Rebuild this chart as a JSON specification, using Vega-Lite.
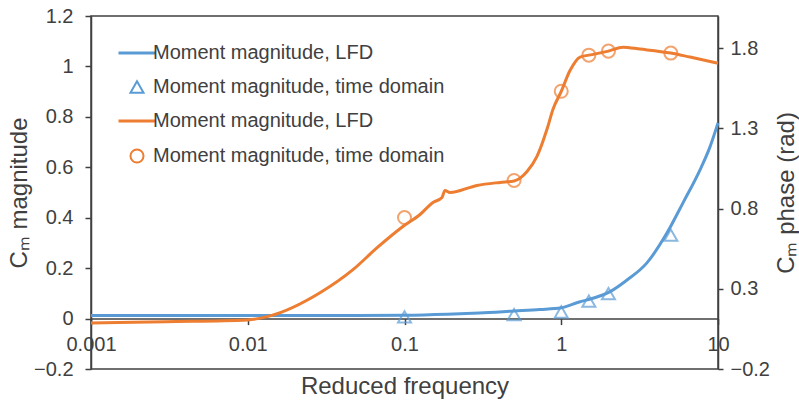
{
  "$schema": "https://vega.github.io/schema/vega-lite/v6.json",
  "width": 627,
  "height": 353,
  "autosize": {"type": "none"},
  "padding": {"left": 91, "top": 16, "right": 81, "bottom": 35},
  "background": "white",
  "config": {
    "view": {"stroke": "#404040", "strokeWidth": 1.5},
    "font": "Liberation Sans",
    "axis": {
      "labelFont": "Liberation Sans",
      "titleFont": "Liberation Sans",
      "labelFontSize": 20,
      "titleFontSize": 24,
      "labelColor": "#404040",
      "titleColor": "#404040",
      "domainColor": "#404040",
      "tickColor": "#404040",
      "grid": false,
      "titleFontWeight": "normal",
      "domainWidth": 1.5,
      "tickWidth": 1.5
    }
  },
  "datasets": {
    "blueLine": [
      {"f": 0.001, "v": 0.012, "series": "s1"},
      {"f": 0.01, "v": 0.012, "series": "s1"},
      {"f": 0.05, "v": 0.012, "series": "s1"},
      {"f": 0.1, "v": 0.013, "series": "s1"},
      {"f": 0.187, "v": 0.017, "series": "s1"},
      {"f": 0.3, "v": 0.022, "series": "s1"},
      {"f": 0.5, "v": 0.03, "series": "s1"},
      {"f": 0.73, "v": 0.036, "series": "s1"},
      {"f": 1.0, "v": 0.043, "series": "s1"},
      {"f": 1.318, "v": 0.067, "series": "s1"},
      {"f": 1.46, "v": 0.074, "series": "s1"},
      {"f": 2.05, "v": 0.107, "series": "s1"},
      {"f": 2.63, "v": 0.153, "series": "s1"},
      {"f": 3.52, "v": 0.221, "series": "s1"},
      {"f": 4.73, "v": 0.34, "series": "s1"},
      {"f": 5.98, "v": 0.459, "series": "s1"},
      {"f": 7.68, "v": 0.59, "series": "s1"},
      {"f": 8.89, "v": 0.681, "series": "s1"},
      {"f": 10, "v": 0.776, "series": "s1"}
    ],
    "bluePts": [
      {"f": 0.1, "v": 0.007, "series": "s2"},
      {"f": 0.5, "v": 0.016, "series": "s2"},
      {"f": 1.0, "v": 0.026, "series": "s2"},
      {"f": 1.5, "v": 0.069, "series": "s2"},
      {"f": 2.0, "v": 0.099, "series": "s2"},
      {"f": 5.0, "v": 0.331, "series": "s2"}
    ],
    "orangeLine": [
      {"f": 0.001, "v": 0.086, "series": "s3"},
      {"f": 0.003, "v": 0.095, "series": "s3"},
      {"f": 0.01, "v": 0.106, "series": "s3"},
      {"f": 0.0139, "v": 0.131, "series": "s3"},
      {"f": 0.0289, "v": 0.275, "series": "s3"},
      {"f": 0.0469, "v": 0.419, "series": "s3"},
      {"f": 0.0669, "v": 0.556, "series": "s3"},
      {"f": 0.0977, "v": 0.688, "series": "s3"},
      {"f": 0.1256, "v": 0.763, "series": "s3"},
      {"f": 0.152, "v": 0.838, "series": "s3"},
      {"f": 0.1735, "v": 0.869, "series": "s3"},
      {"f": 0.181, "v": 0.913, "series": "s3"},
      {"f": 0.195, "v": 0.9, "series": "s3"},
      {"f": 0.29, "v": 0.944, "series": "s3"},
      {"f": 0.407, "v": 0.963, "series": "s3"},
      {"f": 0.5, "v": 0.972, "series": "s3"},
      {"f": 0.605, "v": 1.031, "series": "s3"},
      {"f": 0.7, "v": 1.125, "series": "s3"},
      {"f": 0.811, "v": 1.294, "series": "s3"},
      {"f": 0.886, "v": 1.419, "series": "s3"},
      {"f": 1.0, "v": 1.53, "series": "s3"},
      {"f": 1.137, "v": 1.66, "series": "s3"},
      {"f": 1.318, "v": 1.744, "series": "s3"},
      {"f": 1.5, "v": 1.756, "series": "s3"},
      {"f": 2.0, "v": 1.781, "series": "s3"},
      {"f": 2.477, "v": 1.806, "series": "s3"},
      {"f": 3.18, "v": 1.794, "series": "s3"},
      {"f": 5.0, "v": 1.769, "series": "s3"},
      {"f": 6.63, "v": 1.744, "series": "s3"},
      {"f": 10, "v": 1.706, "series": "s3"}
    ],
    "orangePts": [
      {"f": 0.1, "v": 0.744, "series": "s4"},
      {"f": 0.5, "v": 0.975, "series": "s4"},
      {"f": 1.0, "v": 1.531, "series": "s4"},
      {"f": 1.5, "v": 1.756, "series": "s4"},
      {"f": 2.0, "v": 1.781, "series": "s4"},
      {"f": 5.0, "v": 1.769, "series": "s4"}
    ]
  },
  "encoding": {
    "x": {
      "field": "f",
      "type": "quantitative",
      "scale": {"type": "log", "domain": [0.001, 10], "nice": false},
      "axis": {
        "title": "Reduced frequency",
        "values": [0.001, 0.01, 0.1, 1, 10],
        "format": "~g",
        "offset": -50.4,
        "tickSize": 6,
        "labelPadding": 10,
        "titlePadding": 20,
        "labelOverlap": false,
        "labelFlush": false,
        "labelBound": false
      }
    },
    "color": {
      "field": "series",
      "type": "nominal",
      "scale": {"domain": ["s1", "s2", "s3", "s4"], "range": ["#5B9BD5", "#5B9BD5", "#ED7D31", "#ED7D31"]},
      "legend": {
        "orient": "none",
        "legendX": 36,
        "legendY": 27,
        "title": null,
        "padding": 0,
        "labelFont": "Liberation Sans",
        "labelFontSize": 20,
        "labelColor": "#404040",
        "labelLimit": 400,
        "labelOffset": 6,
        "rowPadding": 14,
        "symbolStrokeWidth": 3,
        "symbolFillColor": "transparent",
        "labelExpr": "datum.value === 's1' || datum.value === 's3' ? 'Moment magnitude, LFD' : 'Moment magnitude, time domain'",
        "encode": {
          "symbols": {
            "update": {
              "size": {"signal": "datum.value === 's1' || datum.value === 's3' ? 1369 : 170"},
              "strokeWidth": {"signal": "datum.value === 's1' || datum.value === 's3' ? 3 : 2"},
              "fill": {"value": "transparent"},
              "fillOpacity": {"value": 0},
              "stroke": {"signal": "datum.value === 's1' || datum.value === 's2' ? '#5B9BD5' : '#ED7D31'"}
            }
          }
        }
      }
    },
    "shape": {
      "field": "series",
      "type": "nominal",
      "scale": {"domain": ["s1", "s2", "s3", "s4"], "range": ["stroke", "triangle-up", "stroke", "circle"]},
      "legend": {
        "orient": "none",
        "legendX": 36,
        "legendY": 27,
        "title": null,
        "padding": 0,
        "labelFont": "Liberation Sans",
        "labelFontSize": 20,
        "labelColor": "#404040",
        "labelLimit": 400,
        "labelOffset": 6,
        "rowPadding": 14,
        "symbolStrokeWidth": 3,
        "symbolFillColor": "transparent",
        "labelExpr": "datum.value === 's1' || datum.value === 's3' ? 'Moment magnitude, LFD' : 'Moment magnitude, time domain'",
        "encode": {
          "symbols": {
            "update": {
              "size": {"signal": "datum.value === 's1' || datum.value === 's3' ? 1369 : 170"},
              "strokeWidth": {"signal": "datum.value === 's1' || datum.value === 's3' ? 3 : 2"},
              "fill": {"value": "transparent"},
              "fillOpacity": {"value": 0},
              "stroke": {"signal": "datum.value === 's1' || datum.value === 's2' ? '#5B9BD5' : '#ED7D31'"}
            }
          }
        }
      }
    }
  },
  "layer": [
    {
      "encoding": {
        "y": {
          "field": "v",
          "type": "quantitative",
          "scale": {"domain": [-0.2, 1.2], "nice": false, "zero": false},
          "axis": {
            "orient": "left",
            "title": "Cₘ magnitude",
            "values": [-0.2, 0, 0.2, 0.4, 0.6, 0.8, 1, 1.2],
            "format": ".1~f",
            "tickSize": 6,
            "labelPadding": 12,
            "titlePadding": 2
          }
        }
      },
      "layer": [
        {
          "data": {"name": "blueLine"},
          "mark": {"type": "line", "strokeWidth": 3, "interpolate": "monotone"},
          "encoding": {"shape": {"value": "stroke"}}
        },
        {
          "data": {"name": "bluePts"},
          "mark": {"type": "point", "filled": false, "strokeWidth": 2, "size": 170}
        }
      ]
    },
    {
      "encoding": {
        "y": {
          "field": "v",
          "type": "quantitative",
          "scale": {"domain": [-0.2, 2.0], "nice": false, "zero": false},
          "axis": {
            "orient": "right",
            "title": "Cₘ phase (rad)",
            "titleAngle": 270,
            "titleBaseline": "top",
            "values": [-0.2, 0.3, 0.8, 1.3, 1.8],
            "format": ".1~f",
            "tickSize": 5,
            "labelPadding": 7,
            "titlePadding": 5
          }
        }
      },
      "layer": [
        {
          "data": {"name": "orangeLine"},
          "mark": {"type": "line", "strokeWidth": 3, "interpolate": "monotone"},
          "encoding": {"shape": {"value": "stroke"}}
        },
        {
          "data": {"name": "orangePts"},
          "mark": {"type": "point", "filled": false, "strokeWidth": 2, "size": 170}
        }
      ]
    }
  ],
  "resolve": {"scale": {"y": "independent"}}
}
